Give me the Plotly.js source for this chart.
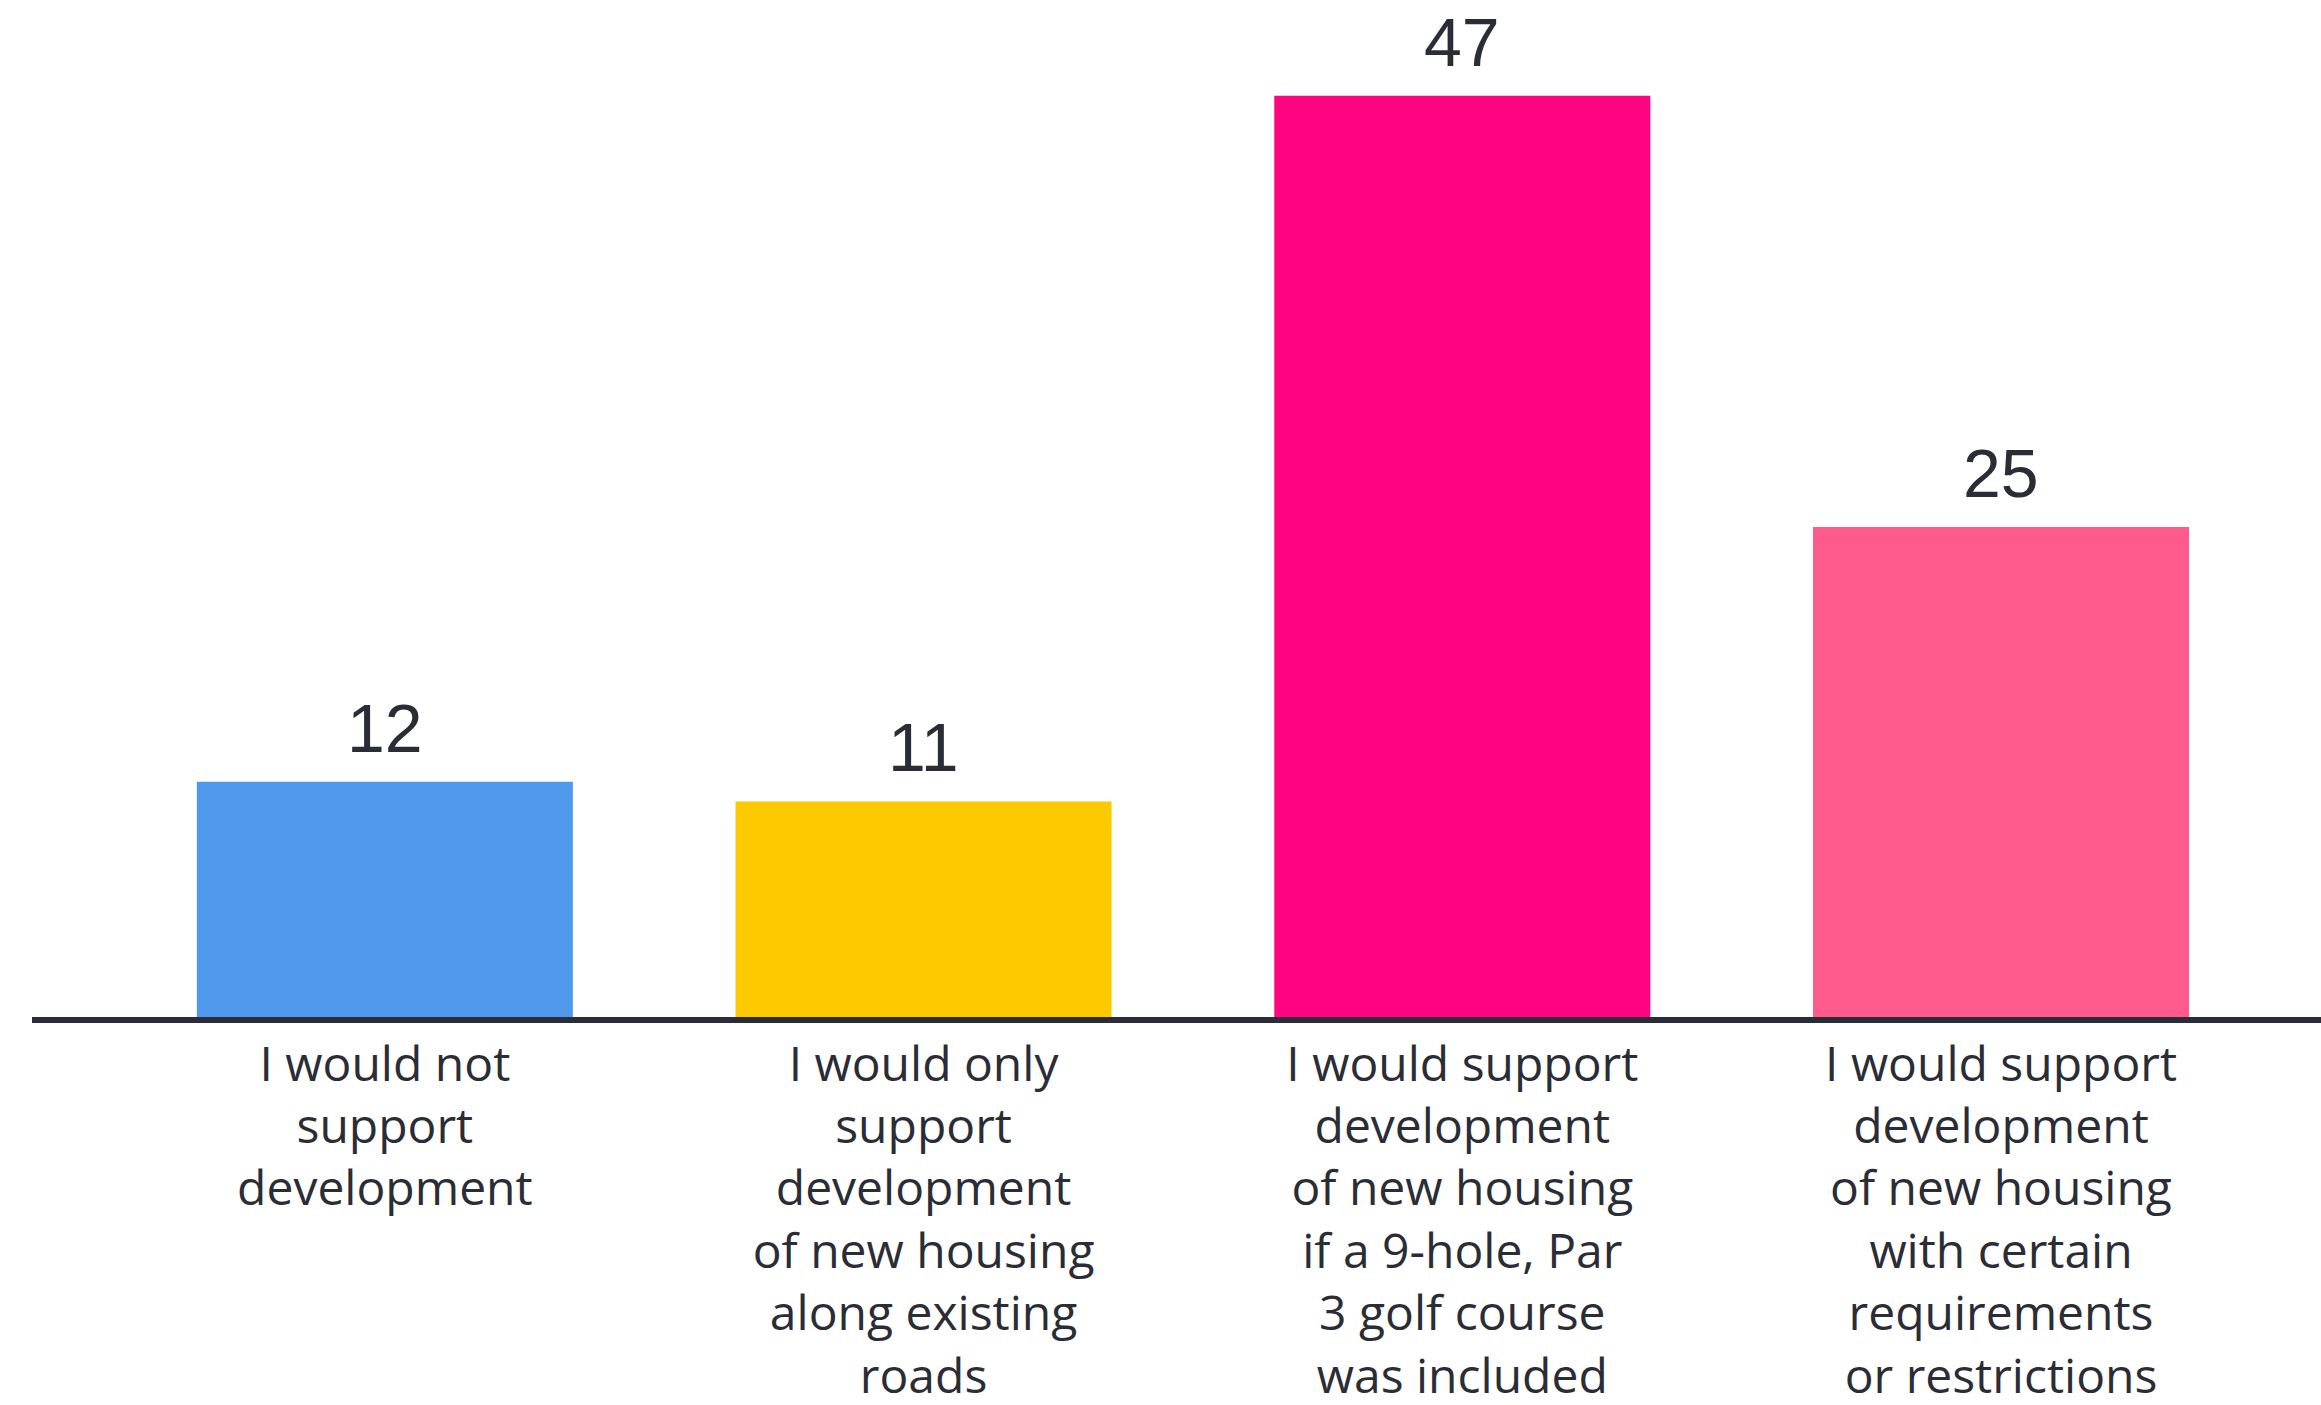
<!DOCTYPE html>
<html>
<head>
<meta charset="utf-8">
<script src="https://cdn.plot.ly/plotly-3.0.1.min.js"></script>
<style>
  html, body { margin: 0; padding: 0; background: #ffffff; }
  #chart { width: 2321px; height: 1405px; }
</style>
</head>
<body>
<div id="chart"></div>
<script>
const categories = [
  "I would not<br>support<br>development",
  "I would only<br>support<br>development<br>of new housing<br>along existing<br>roads",
  "I would support<br>development<br>of new housing<br>if a 9-hole, Par<br>3 golf course<br>was included",
  "I would support<br>development<br>of new housing<br>with certain<br>requirements<br>or restrictions"
];
const values = [12, 11, 47, 25];
const barColors = ["#4f98ec", "#fdca00", "#ff0480", "#ff5a8c"];

const trace = {
  type: "bar",
  x: categories,
  y: values,
  marker: { color: barColors, line: { width: 0 } },
  hoverinfo: "skip",
  showlegend: false
};

const annotations = categories.map((c, i) => ({
  x: c,
  y: values[i],
  xref: "x",
  yref: "y",
  text: String(values[i]),
  showarrow: false,
  yanchor: "middle",
  xanchor: "center",
  yshift: 54,
  font: { family: "Liberation Sans, Arial, sans-serif", size: 68, color: "#2b2d36" }
}));

const layout = {
  width: 2321,
  height: 1405,
  margin: { l: 32, r: 0, t: 37, b: 388 },
  paper_bgcolor: "#ffffff",
  plot_bgcolor: "#ffffff",
  bargap: 0.302,
  xaxis: {
    type: "category",
    range: [-0.655, 3.594],
    showline: true,
    linecolor: "#2a2d37",
    linewidth: 6,
    showgrid: false,
    zeroline: false,
    ticks: "",
    tickfont: { family: "Open Sans, sans-serif", size: 48, color: "#2b2d36" },
    fixedrange: true
  },
  yaxis: {
    range: [0, 50],
    visible: false,
    showgrid: false,
    zeroline: false,
    fixedrange: true
  },
  annotations: annotations
};

Plotly.newPlot("chart", [trace], layout, { displayModeBar: false, staticPlot: true });
</script>
</body>
</html>
